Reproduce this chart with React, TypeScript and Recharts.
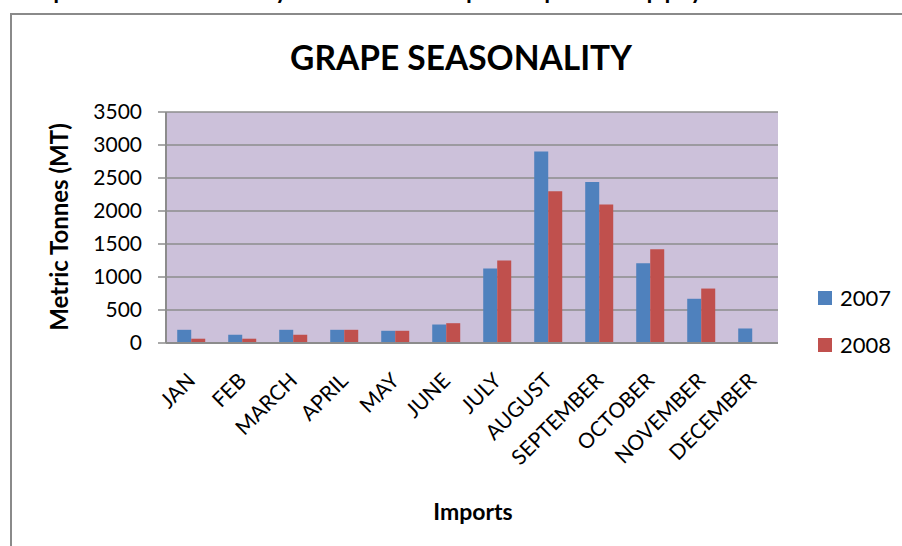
import React from 'react';
import { BarChart, Bar, XAxis, YAxis, CartesianGrid } from 'recharts';

const months = ['JAN', 'FEB', 'MARCH', 'APRIL', 'MAY', 'JUNE', 'JULY', 'AUGUST', 'SEPTEMBER', 'OCTOBER', 'NOVEMBER', 'DECEMBER'];
const imports2007 = [200, 125, 200, 200, 185, 280, 1130, 2900, 2440, 1210, 670, 220];
const imports2008: (number | null)[] = [65, 65, 125, 200, 185, 300, 1250, 2300, 2100, 1420, 825, null];
const yTicks = [0, 500, 1000, 1500, 2000, 2500, 3000, 3500];
const seriesNames = ['2007', '2008'];

const data = months.map((m, i) => ({ month: m, y2007: imports2007[i], y2008: imports2008[i] }));

const FONT = 'Lato, "Open Sans", sans-serif';
const BLUE = '#4f81bd';
const RED = '#c0504d';

const XTick = (props: any) => {
  const { x, y, payload } = props;
  const ax = x + 5;
  const ay = y + 39;
  return (
    <text x={ax} y={ay} transform={`rotate(-45, ${ax}, ${ay})`} textAnchor="end" fontSize={21} fontFamily={FONT} fill="#000">
      {payload.value}
    </text>
  );
};

export default function App() {
  return (
    <div style={{ position: 'fixed', left: 0, top: 0, width: 902, height: 546, background: '#fff', overflow: 'hidden' }}>
      <div style={{ position: 'absolute', left: 2, top: -31, fontFamily: FONT, fontSize: 32, lineHeight: '32px', whiteSpace: 'nowrap', color: '#000' }}>
        Graph 4: Seasonality of Table Grape Import Supply
      </div>
      <div style={{ position: 'absolute', left: 10, top: 13, width: 1000, height: 1000, borderLeft: '2px solid #8a8a8a', borderTop: '2px solid #8a8a8a' }} />
      <div style={{ position: 'absolute', left: 0, top: 0 }}>
        <BarChart width={902} height={546} data={data} margin={{ top: 112, right: 124, bottom: 173, left: 106 }} barCategoryGap="22%" barGap={0}>
          <CartesianGrid vertical={false} stroke="#8c8c8c" strokeWidth={1.5} fill="#ccc1da" fillOpacity={1} />
          <XAxis dataKey="month" tick={XTick} tickLine={false} tickSize={0} tickMargin={0} interval={0} axisLine={{ stroke: '#8c8c8c', strokeWidth: 2 }} height={30} />
          <YAxis width={60} domain={[0, 3500]} ticks={yTicks} interval={0} tickSize={8} tickMargin={16}
            tickLine={{ stroke: '#8c8c8c', strokeWidth: 1.5 }} axisLine={{ stroke: '#8c8c8c', strokeWidth: 2 }}
            tick={{ fontSize: 21, fontFamily: FONT, fill: '#000' }} />
          <Bar dataKey="y2007" name="2007" fill={BLUE} isAnimationActive={false} />
          <Bar dataKey="y2008" name="2008" fill={RED} isAnimationActive={false} />
        </BarChart>
      </div>
      <div style={{ position: 'absolute', left: 818, top: 274, fontFamily: FONT, fontSize: 22, color: '#000' }}>
        {[BLUE, RED].map((c, i) => (
          <div key={i} style={{ display: 'flex', alignItems: 'center', height: 47 }}>
            <span style={{ display: 'inline-block', width: 14, height: 14, background: c, marginRight: 8 }} />
            <span>{seriesNames[i]}</span>
          </div>
        ))}
      </div>
      <div style={{ position: 'absolute', left: 461, top: 57, transform: 'translate(-50%, -50%)', fontFamily: FONT, fontWeight: 700, fontSize: 33.5, whiteSpace: 'nowrap', color: '#000' }}>
        GRAPE SEASONALITY
      </div>
      <div style={{ position: 'absolute', left: 473, top: 511, transform: 'translate(-50%, -50%)', fontFamily: FONT, fontWeight: 700, fontSize: 23, whiteSpace: 'nowrap', color: '#000' }}>
        Imports
      </div>
      <div style={{ position: 'absolute', left: 58, top: 227, transform: 'translate(-50%, -50%) rotate(-90deg)', fontFamily: FONT, fontWeight: 700, fontSize: 24, whiteSpace: 'nowrap', color: '#000' }}>
        Metric Tonnes (MT)
      </div>
    </div>
  );
}
